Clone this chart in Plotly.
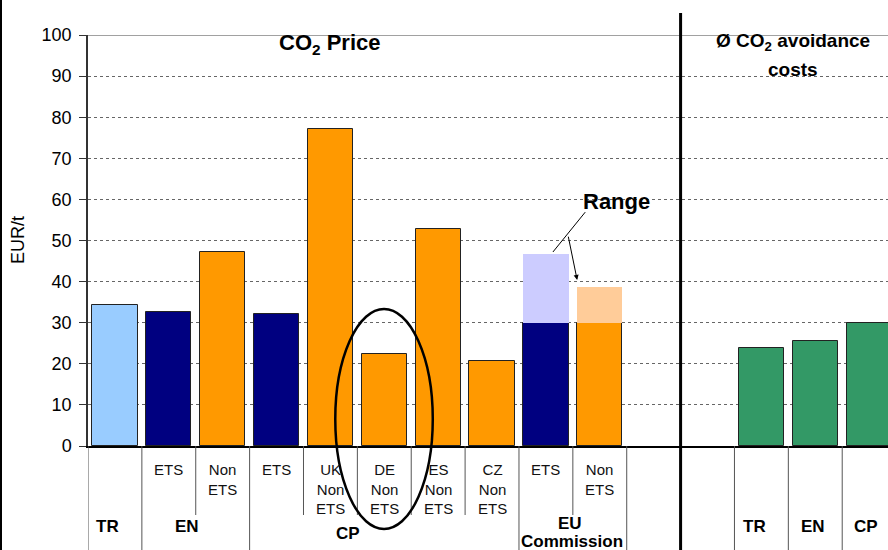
import plotly.graph_objects as go

# ---------------- data ----------------
positions = [0, 1, 2, 3, 4, 5, 6, 7, 8, 9, 12, 13, 14]
values = [34.4, 32.7, 47.3, 32.1, 77.2, 22.3, 52.7, 20.7, 30.0, 30.0, 23.9, 25.5, 30.0]
colors = ["#99CCFF", "#000080", "#FF9900", "#000080", "#FF9900", "#FF9900",
          "#FF9900", "#FF9900", "#000080", "#FF9900", "#339966", "#339966", "#339966"]

range_positions = [8, 9]
range_base = [30.0, 30.0]
range_top = [46.8, 38.8]
range_colors = ["#CCCCFF", "#FFCC99"]

sub_positions = [1, 2, 3, 4, 5, 6, 7, 8, 9]
sub_labels = ["ETS", "Non<br>ETS", "ETS", "UK<br>Non<br>ETS", "DE<br>Non<br>ETS",
              "ES<br>Non<br>ETS", "CZ<br>Non<br>ETS", "ETS", "Non<br>ETS"]

group_labels = ["TR", "EN", "CP", "EU", "Commission", "TR", "EN", "CP"]
group_x = [-0.13, 1.34, 4.33, 8.45, 8.48, 11.88, 12.96, 13.94]
group_ypx = [526, 526, 533, 523, 541, 526, 526, 526]

full_seps = [-0.5, 0.5, 2.5, 7.5, 9.5, 11.5, 12.5, 13.5]
short_seps = [1.5, 3.5, 4.5, 5.5, 6.5, 8.5]
panel_sep = 10.5

FONT = "Arial, Liberation Sans, sans-serif"
H_TOP, H_BOT = 35, 446          # pixel rows of 100 and 0
PH = H_BOT - H_TOP


def py(pix):
    """pixel row -> paper y"""
    return (H_BOT - pix) / PH


fig = go.Figure()
fig.add_trace(go.Bar(
    x=positions, y=values, width=0.84,
    marker=dict(color=colors, line=dict(color="#222222", width=1)),
    hoverinfo="y", showlegend=False))
fig.add_trace(go.Bar(
    x=range_positions, y=[t - b for t, b in zip(range_top, range_base)], base=range_base,
    width=0.84, marker=dict(color=range_colors, line=dict(width=0)),
    hoverinfo="y", showlegend=False))

shapes = []
shapes.append(dict(type="line", xref="paper", yref="y", x0=0, x1=1, y0=100, y1=100,
                   line=dict(color="#444", width=1)))
for s in full_seps:
    shapes.append(dict(type="line", xref="x", yref="paper", x0=s, x1=s, y0=0, y1=py(552),
                       line=dict(color="#555", width=1)))
for s in short_seps:
    shapes.append(dict(type="line", xref="x", yref="paper", x0=s, x1=s, y0=0, y1=py(515),
                       line=dict(color="#555", width=1)))
shapes.append(dict(type="line", xref="x", yref="paper", x0=panel_sep, x1=panel_sep,
                   y0=py(13), y1=py(552), line=dict(color="black", width=3)))
shapes.append(dict(type="line", xref="paper", yref="paper", x0=(1 - 88) / 800, x1=(1 - 88) / 800,
                   y0=py(0), y1=py(552), line=dict(color="black", width=2)))
shapes.append(dict(type="circle", xref="x", yref="paper", x0=4.09, x1=5.90,
                   y0=py(529), y1=py(309), line=dict(color="black", width=2.5)))
shapes.append(dict(type="line", xref="x", yref="y", x0=8.73, y0=56.9, x1=8.13, y1=47.2,
                   line=dict(color="black", width=1)))

ann = []
for x, t in zip(sub_positions, sub_labels):
    ann.append(dict(x=x, y=py(459), xref="x", yref="paper", text=t, showarrow=False,
                    xanchor="center", yanchor="top", font=dict(family=FONT, size=15, color="#111")))
for x, t, yp in zip(group_x, group_labels, group_ypx):
    ann.append(dict(x=x, y=py(yp), xref="x", yref="paper", text="<b>%s</b>" % t, showarrow=False,
                    xanchor="center", yanchor="middle", font=dict(family=FONT, size=17, color="black")))
ann.append(dict(x=(330 - 88) / 800, y=py(44), xref="paper", yref="paper",
                text="<b>CO<sub>2</sub> Price</b>", showarrow=False, xanchor="center", yanchor="middle",
                font=dict(family=FONT, size=22, color="black")))
ann.append(dict(x=(793 - 88) / 800, y=py(42), xref="paper", yref="paper",
                text="<b>Ø CO<sub>2</sub> avoidance</b>", showarrow=False, xanchor="center", yanchor="middle",
                font=dict(family=FONT, size=19, color="black")))
ann.append(dict(x=(793 - 88) / 800, y=py(69), xref="paper", yref="paper",
                text="<b>costs</b>", showarrow=False, xanchor="center", yanchor="middle",
                font=dict(family=FONT, size=19, color="black")))
ann.append(dict(x=9.31, y=59.4, xref="x", yref="y", text="<b>Range</b>", showarrow=False,
                xanchor="center", yanchor="middle", font=dict(family=FONT, size=22, color="black")))
ann.append(dict(x=8.58, y=40.4, ax=8.41, ay=51.3, xref="x", yref="y", axref="x", ayref="y",
                text="", showarrow=True, arrowhead=2, arrowsize=1, arrowwidth=1, arrowcolor="black"))
ann.append(dict(x=0, y=py(240), xref="paper", yref="paper", xshift=-70, text="EUR/t",
                textangle=-90, showarrow=False, xanchor="center", yanchor="middle",
                font=dict(family=FONT, size=18, color="black")))

fig.update_layout(
    width=888, height=550, autosize=False,
    margin=dict(l=88, r=0, t=H_TOP, b=550 - H_BOT, pad=0),
    plot_bgcolor="white", paper_bgcolor="white",
    barmode="overlay", bargap=0,
    shapes=shapes, annotations=ann,
    xaxis=dict(range=[-0.5, 14.35], showticklabels=False, ticks="", showgrid=False,
               zeroline=False, showline=True, linecolor="black", linewidth=1.5, fixedrange=True),
    yaxis=dict(range=[0, 100], dtick=10, tick0=0, showgrid=True, gridcolor="#666", griddash="dot",
               gridwidth=1, zeroline=False, showline=True, linecolor="#333", linewidth=1.5,
               ticks="outside", ticklen=7, tickcolor="#333", ticklabelstandoff=4,
               tickfont=dict(family=FONT, size=18, color="black"), fixedrange=True),
    font=dict(family=FONT),
)

fig.write_html("out.html", config={"displayModeBar": False},
               post_script="document.body.style.margin='0';document.body.style.overflow='hidden';")
